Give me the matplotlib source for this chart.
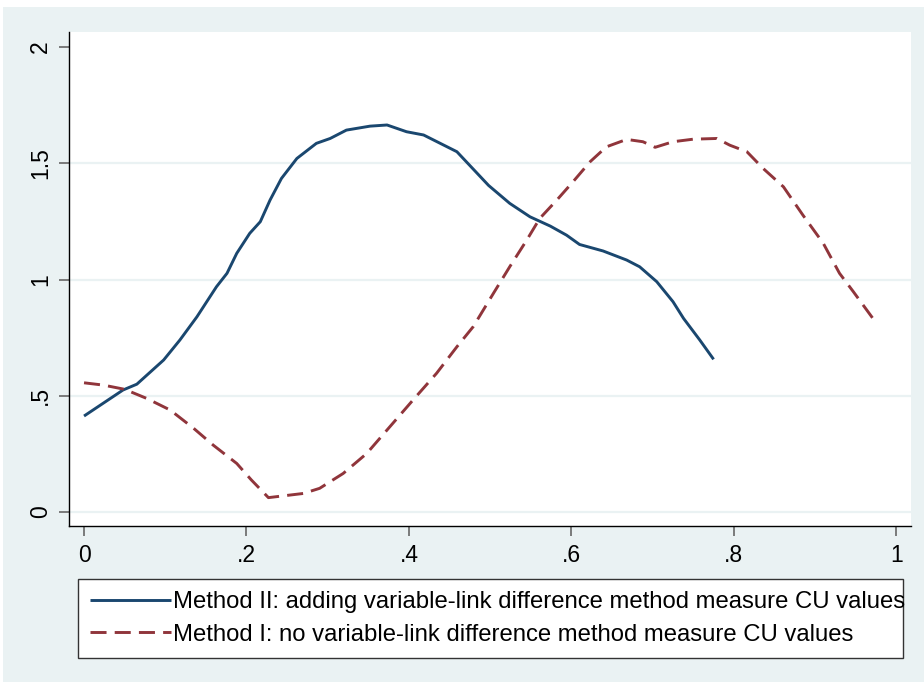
import numpy as np
import matplotlib
matplotlib.use('Agg')
import matplotlib.pyplot as plt
from matplotlib.patches import Rectangle

plt.rcParams['font.family'] = ['Liberation Sans', 'DejaVu Sans']

# Method II (solid navy)
x2 = [0.0, 0.048, 0.065, 0.098, 0.118, 0.139, 0.163, 0.176, 0.188, 0.204, 0.217, 0.229,
      0.243, 0.262, 0.286, 0.303, 0.323, 0.352, 0.373, 0.397, 0.418, 0.459, 0.498, 0.524,
      0.549, 0.574, 0.594, 0.610, 0.639, 0.668, 0.684, 0.705, 0.725, 0.738, 0.758, 0.775]
y2 = [0.413, 0.525, 0.55, 0.654, 0.74, 0.84, 0.969, 1.027, 1.113, 1.199, 1.249, 1.342,
      1.435, 1.521, 1.586, 1.607, 1.643, 1.660, 1.665, 1.636, 1.622, 1.550, 1.405, 1.328,
      1.270, 1.230, 1.191, 1.151, 1.123, 1.084, 1.055, 0.991, 0.905, 0.833, 0.740, 0.657]

# Method I (dashed maroon)
x1 = [0.0, 0.024, 0.050, 0.077, 0.106, 0.135, 0.159, 0.188, 0.206, 0.227, 0.270, 0.290,
      0.319, 0.348, 0.373, 0.405, 0.434, 0.459, 0.479, 0.504, 0.524, 0.545, 0.561, 0.582,
      0.602, 0.623, 0.643, 0.668, 0.688, 0.703, 0.725, 0.750, 0.779, 0.795, 0.816, 0.836,
      0.861, 0.885, 0.910, 0.930, 0.947, 0.974]
y1 = [0.556, 0.546, 0.528, 0.489, 0.439, 0.360, 0.288, 0.209, 0.138, 0.062, 0.080, 0.102,
      0.166, 0.252, 0.353, 0.482, 0.597, 0.711, 0.797, 0.941, 1.055, 1.170, 1.263, 1.342,
      1.421, 1.507, 1.571, 1.603, 1.593, 1.569, 1.593, 1.604, 1.607, 1.578, 1.550, 1.478,
      1.399, 1.277, 1.156, 1.027, 0.948, 0.819]

label2 = 'Method II: adding variable-link difference method measure CU values'
label1 = 'Method I: no variable-link difference method measure CU values'

xticks = [0, 0.2, 0.4, 0.6, 0.8, 1.0]
xticklabels = ['0', '.2', '.4', '.6', '.8', '1']
yticks = [0, 0.5, 1.0, 1.5, 2.0]
yticklabels = ['0', '.5', '1', '1.5', '2']

bg = '#eaf2f3'
navy = '#1a476f'
maroon = '#90353b'

fig = plt.figure(figsize=(9.24, 6.82), dpi=100, facecolor='white')
fig.patches.append(Rectangle((3/924, 0), 1, 1 - 7/682, transform=fig.transFigure,
                             facecolor=bg, edgecolor='none', zorder=-10))

ax = fig.add_axes([69/924, 1 - 526/682, (911 - 69)/924, (526 - 32)/682])
ax.set_facecolor('white')

ax.plot(x2, y2, color=navy, lw=2.1, label=label2, solid_capstyle='butt')
ax.plot(x1, y1, color=maroon, lw=2.1, label=label1, dashes=(5.5, 2.8))

ax.set_xlim(-0.0185, 1.018)
ax.set_ylim(-0.06, 2.065)
ax.set_xticks(xticks)
ax.set_xticklabels(xticklabels)
ax.set_yticks(yticks)
ax.set_yticklabels(yticklabels, rotation=90, va='center')

ax.tick_params(axis='both', length=7, width=1.2, color='#666666', labelsize=16.5, pad=6)
ax.tick_params(axis='y', pad=5)

ax.yaxis.grid(True, color=bg, lw=1.6)
ax.set_axisbelow(True)
ax.get_ygridlines()[-1].set_visible(False)

for s in ['top', 'right']:
    ax.spines[s].set_visible(False)
for s in ['left', 'bottom']:
    ax.spines[s].set_linewidth(1.0)
    ax.spines[s].set_color('black')

leg = fig.legend(loc='upper left', bbox_to_anchor=(78/924, 1 - 579/682 - 0.01, (903 - 78)/924, 0.01),
                 mode='expand', ncol=1, fontsize=17.2, frameon=True, fancybox=False,
                 edgecolor='#333333', facecolor='white', framealpha=1,
                 handlelength=3.4, handletextpad=0.08,
                 borderpad=0.5, labelspacing=0.45, borderaxespad=0)
leg.get_frame().set_linewidth(1.0)

fig.savefig('out.png', dpi=100, facecolor=fig.get_facecolor())
